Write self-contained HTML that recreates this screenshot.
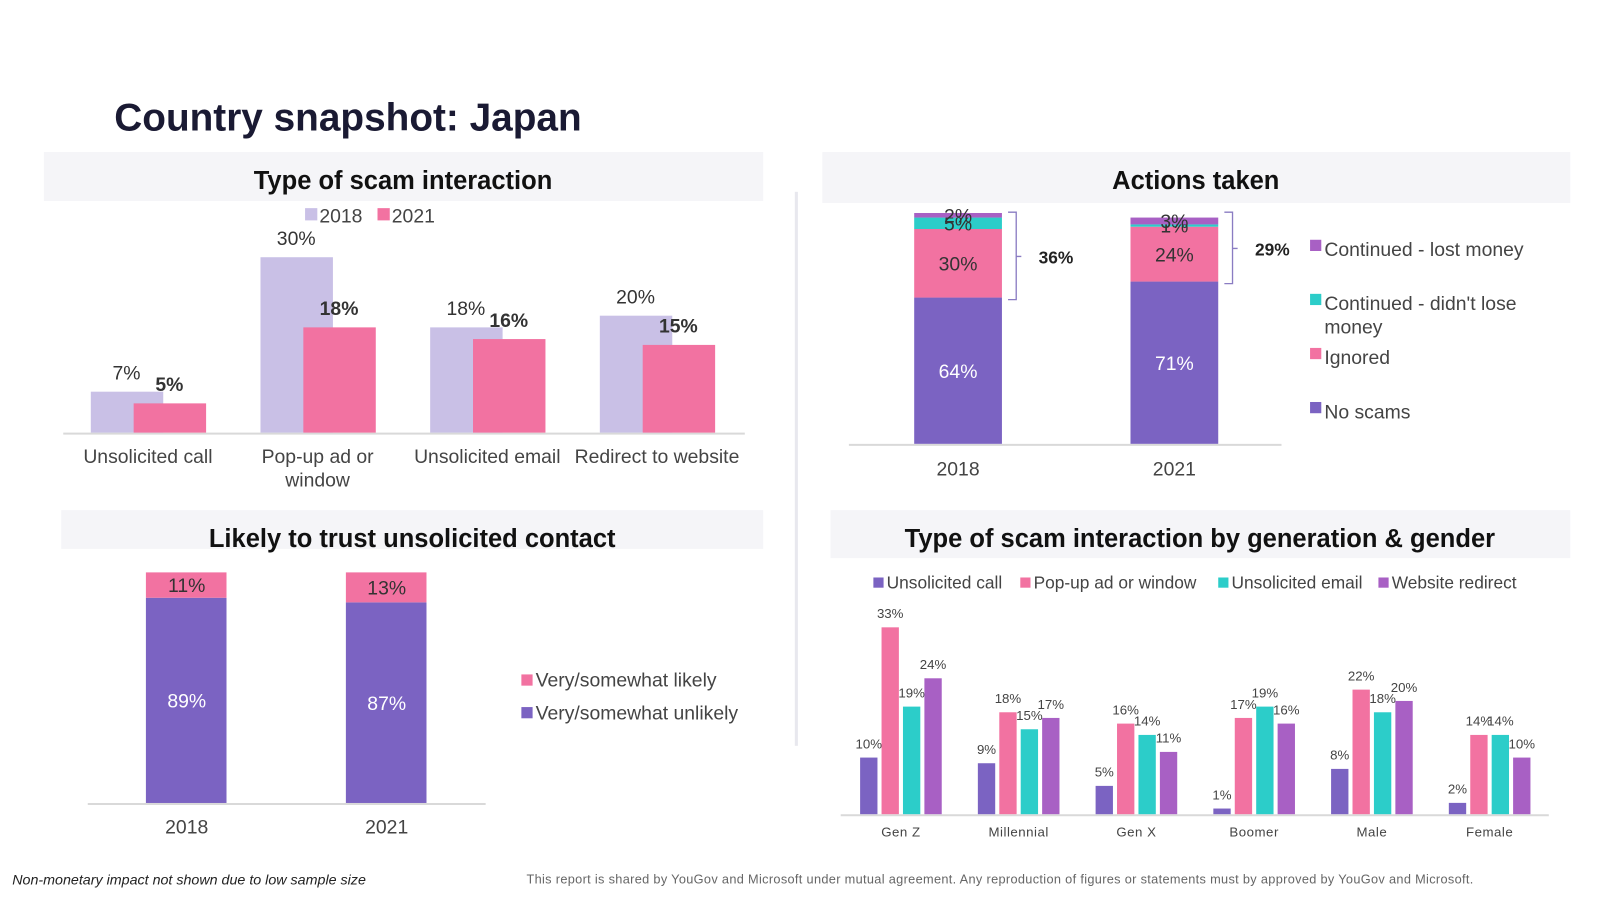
<!DOCTYPE html>
<html><head><meta charset="utf-8"><style>
body{margin:0;width:1600px;height:900px;background:#fff;font-family:"Liberation Sans",Arial,sans-serif;overflow:hidden}
svg{position:absolute;left:0;top:0}
</style></head><body>
<svg id="s" width="1600" height="900">
<g transform="scale(1.0203)">
<text x="112" y="128" font-size="38" font-weight="bold" fill="#1a1a33">Country snapshot: Japan</text>
<rect x="43" y="149" width="705" height="48" fill="#f5f5f8"/>
<text x="395" y="185" font-size="25" font-weight="bold" text-anchor="middle" fill="#111">Type of scam interaction</text>
<rect x="806" y="149" width="733" height="50" fill="#f5f5f8"/>
<text x="1172" y="185" font-size="25" font-weight="bold" text-anchor="middle" fill="#111">Actions taken</text>
<rect x="60" y="500" width="688" height="38" fill="#f5f5f8"/>
<text x="404" y="536" font-size="25" font-weight="bold" text-anchor="middle" fill="#111">Likely to trust unsolicited contact</text>
<rect x="814" y="500" width="725" height="47" fill="#f5f5f8"/>
<text x="1176" y="536" font-size="25" font-weight="bold" text-anchor="middle" fill="#111">Type of scam interaction by generation &amp; gender</text>
<rect x="779" y="188" width="3" height="543" fill="#e8e8ee"/>
<text x="12" y="867" font-size="14" font-style="italic" fill="#222">Non-monetary impact not shown due to low sample size</text>
<text x="516" y="866" font-size="12.5" fill="#666" textLength="928" lengthAdjust="spacing">This report is shared by YouGov and Microsoft under mutual agreement. Any reproduction of figures or statements must by approved by YouGov and Microsoft.</text>
<g id="g1"></g><g id="g2"></g><g id="g3"></g><g id="g4"></g>
</g>
</svg>
<script>
const NS='http://www.w3.org/2000/svg';
function mk(p,t,a,txt){const e=document.createElementNS(NS,t);for(const k in a)e.setAttribute(k,a[k]);if(txt!==undefined)e.textContent=txt;p.appendChild(e);return e;}

// Chart 1
const c1Cats=['Unsolicited call','Pop-up ad or window','Unsolicited email','Redirect to website'];
const c1Y2018=[7,30,18,20];
const c1Y2021=[5,18,16,15];
const g1=document.getElementById('g1');
const y1=v=>424-v*5.73, x1=i=>89+i*166.3;
mk(g1,'line',{x1:62,x2:730,y1:425,y2:425,stroke:'#d9d9d9','stroke-width':2});
c1Cats.forEach((c,i)=>{
 let r=mk(g1,'rect',{x:x1(i),y:y1(c1Y2018[i]),width:71,height:424-y1(c1Y2018[i]),fill:'#c9c0e6'});
 
 r=mk(g1,'rect',{x:x1(i)+42,y:y1(c1Y2021[i]),width:71,height:424-y1(c1Y2021[i]),fill:'#f272a1'});
 
 mk(g1,'text',{x:x1(i)+35,y:y1(c1Y2018[i])-12,'font-size':19,'text-anchor':'middle',fill:'#333'},c1Y2018[i]+'%');
 mk(g1,'text',{x:x1(i)+77,y:y1(c1Y2021[i])-12,'font-size':19,'font-weight':'bold','text-anchor':'middle',fill:'#333'},c1Y2021[i]+'%');
 const parts=i==1?['Pop-up ad or','window']:[c];
 parts.forEach((p,j)=>{const t=mk(g1,'text',{x:x1(i)+56,y:454+j*23,'font-size':19,'text-anchor':'middle',fill:'#444'},p);});
});
mk(g1,'rect',{x:299,y:204,width:12,height:12,fill:'#c9c0e6'});mk(g1,'text',{x:313,y:218,'font-size':19,fill:'#444'},'2018');
mk(g1,'rect',{x:370,y:204,width:12,height:12,fill:'#f272a1'});mk(g1,'text',{x:384,y:218,'font-size':19,fill:'#444'},'2021');

// Chart 2 Actions
const c2Years=['2018','2021'];
const c2NoScams=[64,71];
const c2Ignored=[30,24];
const c2NoLoss=[5,1];
const c2Lost=[2,3];
const c2Brace=['36%','29%'];
const g2=document.getElementById('g2');
const s2=2.24, base2=435, x2=i=>896+i*212;
mk(g2,'line',{x1:832,x2:1256,y1:436,y2:436,stroke:'#d9d9d9','stroke-width':2});
const ser2=[[c2NoScams,'#7b63c2','#fff'],[c2Ignored,'#f272a1','#333'],[c2NoLoss,'#2ccdc9','#333'],[c2Lost,'#a860c4','#333']];
c2Years.forEach((yr,i)=>{
 let acc=0;
 ser2.forEach(([arr,col,tc],k)=>{
  const v=arr[i],top=base2-(acc+v)*s2;
  const r=mk(g2,'rect',{x:x2(i),y:top,width:86,height:v*s2,fill:col});
  
  mk(g2,'text',{x:x2(i)+43,y:top+v*s2/2+7,'font-size':19,'text-anchor':'middle',fill:tc},v+'%');
  acc+=v;
 });
 mk(g2,'text',{x:x2(i)+43,y:466,'font-size':19,'text-anchor':'middle',fill:'#444'},yr);
 const top=base2-100*s2, bot=base2-c2NoScams[i]*s2, bx=x2(i)+100, mid=(top+bot)/2;
 mk(g2,'path',{d:`M${bx-8},${top-3} h8 V${bot+2} h-8 M${bx},${mid} h5`,fill:'none',stroke:'#8a7cc2','stroke-width':1.3});
 mk(g2,'text',{x:bx+22,y:mid+7,'font-size':17,'font-weight':'bold',fill:'#222'},c2Brace[i]);
});
[['#a860c4',['Continued - lost money'],245],['#2ccdc9',["Continued - didn't lose",'money'],298],['#f272a1',['Ignored'],351],['#7b63c2',['No scams'],404]].forEach(([c,l,y])=>{
 mk(g2,'rect',{x:1284,y:y-10,width:11,height:11,fill:c});
 l.forEach((t,j)=>mk(g2,'text',{x:1298,y:y+j*23+6,'font-size':19,fill:'#444'},t));
});

// Chart 3 Trust
const c3Years=['2018','2021'];
const c3Unlikely=[89,87];
const c3Likely=[11,13];
const g3=document.getElementById('g3');
const s3=2.26, base3=787, x3=i=>143+i*196;
mk(g3,'line',{x1:86,x2:476,y1:788,y2:788,stroke:'#d9d9d9','stroke-width':2});
c3Years.forEach((yr,i)=>{
 const h1=c3Unlikely[i]*s3,h2=c3Likely[i]*s3;
 let r=mk(g3,'rect',{x:x3(i),y:base3-h1,width:79,height:h1,fill:'#7b63c2'});
 r=mk(g3,'rect',{x:x3(i),y:base3-h1-h2,width:79,height:h2,fill:'#f272a1'});
 mk(g3,'text',{x:x3(i)+40,y:base3-h1/2+7,'font-size':19,'text-anchor':'middle',fill:'#fff'},c3Unlikely[i]+'%');
 mk(g3,'text',{x:x3(i)+40,y:base3-h1-h2/2+7,'font-size':19,'text-anchor':'middle',fill:'#333'},c3Likely[i]+'%');
 mk(g3,'text',{x:x3(i)+40,y:817,'font-size':19,'text-anchor':'middle',fill:'#444'},yr);
});
mk(g3,'rect',{x:511,y:661,width:11,height:11,fill:'#f272a1'});mk(g3,'text',{x:525,y:673,'font-size':19,fill:'#444'},'Very/somewhat likely');
mk(g3,'rect',{x:511,y:693,width:11,height:11,fill:'#7b63c2'});mk(g3,'text',{x:525,y:705,'font-size':19,fill:'#444'},'Very/somewhat unlikely');

// Chart 4 generation
const c4Cats=['Gen Z','Millennial','Gen X','Boomer','Male','Female'];
const c4Call=[10,9,5,1,8,2];
const c4Popup=[33,18,16,17,22,14];
const c4Email=[19,15,14,19,18,14];
const c4Redirect=[24,17,11,16,20,10];
const g4=document.getElementById('g4');
const base4=798, s4=5.55, cx4=i=>883+i*115.4;
mk(g4,'line',{x1:824,x2:1518,y1:799,y2:799,stroke:'#d9d9d9','stroke-width':2});
const ser4=[[c4Call,'#7b63c2'],[c4Popup,'#f272a1'],[c4Email,'#2ccdc9'],[c4Redirect,'#a860c4']];
c4Cats.forEach((c,i)=>{
 ser4.forEach(([arr,col],k)=>{
  const x=cx4(i)-40+k*21, h=arr[i]*s4;
  const r=mk(g4,'rect',{x:x,y:base4-h,width:17,height:h,fill:col});
  
  mk(g4,'text',{x:x+8.5,y:base4-h-9,'font-size':13,'text-anchor':'middle',fill:'#444'},arr[i]+'%');
 });
 mk(g4,'text',{x:cx4(i),y:820,'font-size':13,'text-anchor':'middle',fill:'#444','letter-spacing':'0.5'},c);
});
[['#7b63c2','Unsolicited call',856],['#f272a1','Pop-up ad or window',1000],['#2ccdc9','Unsolicited email',1194],['#a860c4','Website redirect',1351]].forEach(([c,t,x])=>{
 mk(g4,'rect',{x:x,y:566,width:10,height:10,fill:c});mk(g4,'text',{x:x+13,y:577,'font-size':17,fill:'#444'},t);
});
</script>
</body></html>
